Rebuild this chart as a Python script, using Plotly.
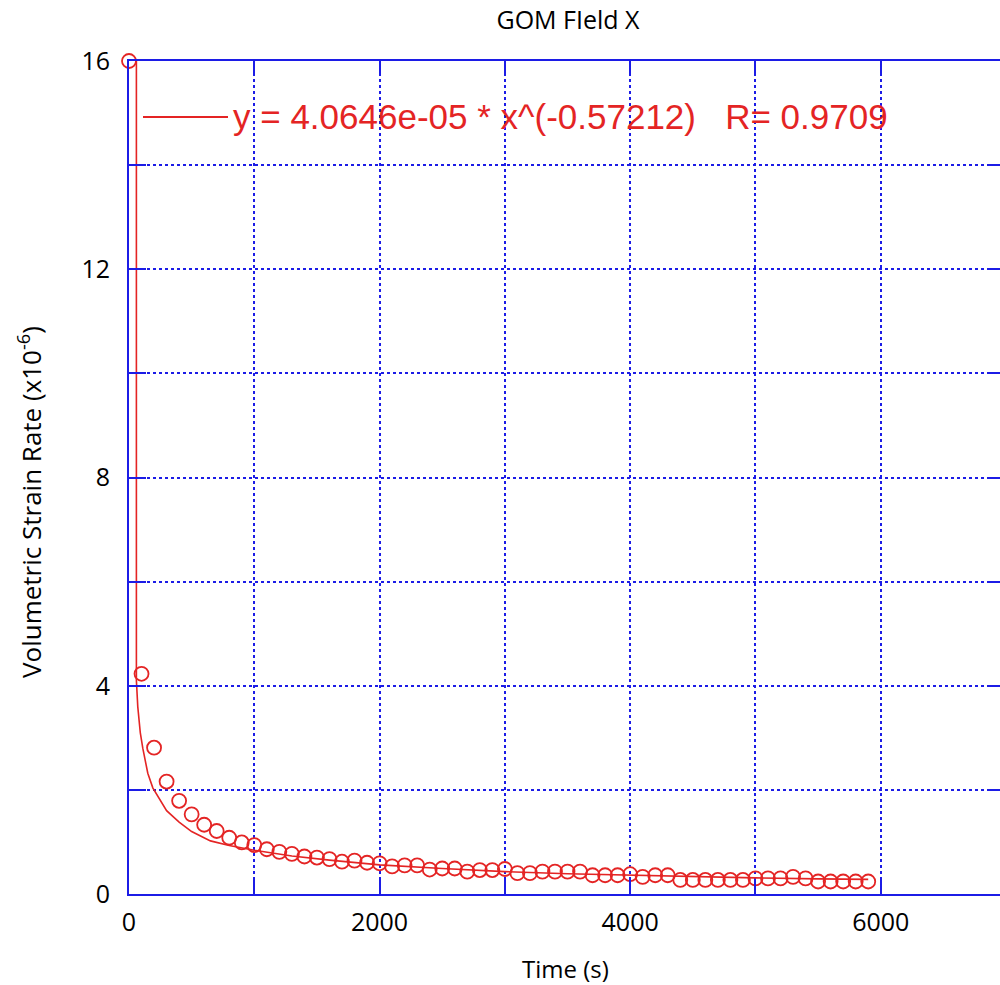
import plotly.graph_objects as go

# ---- data ----
time_s = [0, 100, 200, 300, 400, 500, 600, 700, 800, 900,
          1000, 1100, 1200, 1300, 1400, 1500, 1600, 1700, 1800, 1900,
          2000, 2100, 2200, 2300, 2400, 2500, 2600, 2700, 2800, 2900,
          3000, 3100, 3200, 3300, 3400, 3500, 3600, 3700, 3800, 3900,
          4000, 4100, 4200, 4300, 4400, 4500, 4600, 4700, 4800, 4900,
          5000, 5100, 5200, 5300, 5400, 5500, 5600, 5700, 5800, 5900]
strain_rate = [16.0, 4.23, 2.81, 2.16, 1.79, 1.53, 1.33, 1.21, 1.08, 0.99,
               0.94, 0.86, 0.81, 0.77, 0.72, 0.70, 0.67, 0.62, 0.64, 0.60,
               0.59, 0.53, 0.55, 0.55, 0.47, 0.49, 0.49, 0.43, 0.46, 0.46,
               0.48, 0.40, 0.40, 0.43, 0.43, 0.43, 0.43, 0.36, 0.36, 0.36,
               0.38, 0.33, 0.36, 0.36, 0.27, 0.27, 0.27, 0.27, 0.27, 0.27,
               0.30, 0.30, 0.30, 0.33, 0.30, 0.24, 0.24, 0.24, 0.24, 0.24]

fit_time = [59, 59, 70, 90, 110, 150, 190, 250, 300, 400, 500, 650, 800,
            1000, 1300, 1600, 2000, 2500, 3000, 3500, 4000, 4500, 5000, 5500, 5900]
fit_rate = [17.0, 4.1, 3.6, 3.1, 2.8, 2.32, 2.04, 1.8, 1.6, 1.38, 1.2, 1.02, 0.93,
            0.84, 0.73, 0.65, 0.56, 0.49, 0.43, 0.39, 0.36, 0.33, 0.31, 0.29, 0.28]

x_ticks = [0, 1000, 2000, 3000, 4000, 5000, 6000]
x_ticktext = ["0", "", "2000", "", "4000", "", "6000"]
y_ticks = [0, 2, 4, 6, 8, 10, 12, 14, 16]
y_ticktext = ["0", "", "4", "", "8", "", "12", "", "16"]

title_text = "GOM FIeld X"
x_title = "Time (s)"
y_title = "Volumetric Strain Rate (x10<sup>-6</sup>)"
fit_label = "y = 4.0646e-05 * x^(-0.57212)   R= 0.9709"

RED = "#e42424"
BLUE = "#1c1ce6"
W, H = 1000, 985
L, R, T, B = 129, 0, 61, 91
px_per_unit = 0.12529
x_max = (W - L - R) / px_per_unit

fig = go.Figure()
fig.add_trace(go.Scatter(x=fit_time, y=fit_rate, mode="lines",
                         line=dict(color=RED, width=1.6), showlegend=False))
fig.add_trace(go.Scatter(x=time_s, y=strain_rate, mode="markers", cliponaxis=False,
                         marker=dict(symbol="circle-open", size=14, color=RED,
                                     line=dict(width=1.8, color=RED)),
                         showlegend=False))
# right-side ticks (axis frame continues beyond the image)
fig.add_trace(go.Scatter(x=[None], y=[None], yaxis="y2", showlegend=False))

axis_font = dict(family="Open Sans, sans-serif", size=25, color="black")

fig.update_layout(
    width=W, height=H,
    margin=dict(l=L, r=R, t=T, b=B, pad=0),
    paper_bgcolor="white", plot_bgcolor="white",
    title=dict(text=title_text, x=568 / W, xanchor="center", xref="container",
               y=1 - 20 / H, yanchor="middle", yref="container",
               font=dict(family="Open Sans, sans-serif", size=25, color="black")),
    xaxis=dict(range=[0, x_max], tickvals=x_ticks, ticktext=x_ticktext,
               ticks="inside", ticklen=14, tickwidth=2, tickcolor=BLUE,
               showline=True, linecolor=BLUE, linewidth=2, mirror="ticks",
               showgrid=True, gridcolor=BLUE, gridwidth=2, griddash="dot",
               zeroline=False, tickfont=axis_font, ticklabelstandoff=5),
    yaxis=dict(range=[0, 16], tickvals=y_ticks, ticktext=y_ticktext,
               ticks="inside", ticklen=17, tickwidth=2, tickcolor=BLUE,
               showline=True, linecolor=BLUE, linewidth=2, mirror=False,
               showgrid=True, gridcolor=BLUE, gridwidth=2, griddash="dot",
               zeroline=False, tickfont=axis_font, ticklabelstandoff=12),
    yaxis2=dict(range=[0, 16], tickvals=y_ticks, overlaying="y", side="right",
                ticks="inside", ticklen=12, tickwidth=2, tickcolor=BLUE,
                showticklabels=False, showgrid=False, showline=False, zeroline=False),
    annotations=[
        dict(text=x_title, xref="paper", yref="paper", x=(565 - L) / (W - L - R),
             y=(H - B - 968) / (H - T - B), xanchor="center", yanchor="middle",
             showarrow=False, font=dict(family="Open Sans, sans-serif", size=24, color="black")),
        dict(text=y_title, xref="paper", yref="paper", x=(30 - L) / (W - L - R),
             y=(H - B - 502) / (H - T - B), xanchor="center", yanchor="middle",
             textangle=-90, showarrow=False,
             font=dict(family="Open Sans, sans-serif", size=26, color="black")),
        dict(text=fit_label, xref="paper", yref="paper", x=(231 - L) / (W - L - R),
             y=(H - B - 117) / (H - T - B), xanchor="left", yanchor="middle",
             showarrow=False,
             font=dict(family="Liberation Sans, Arial, sans-serif", size=35, color=RED)),
    ],
    shapes=[
        dict(type="line", xref="paper", yref="paper",
             x0=(143 - L) / (W - L - R), x1=(228 - L) / (W - L - R),
             y0=(H - B - 117) / (H - T - B), y1=(H - B - 117) / (H - T - B),
             line=dict(color=RED, width=2)),
    ],
)

fig.write_html("out.html")
